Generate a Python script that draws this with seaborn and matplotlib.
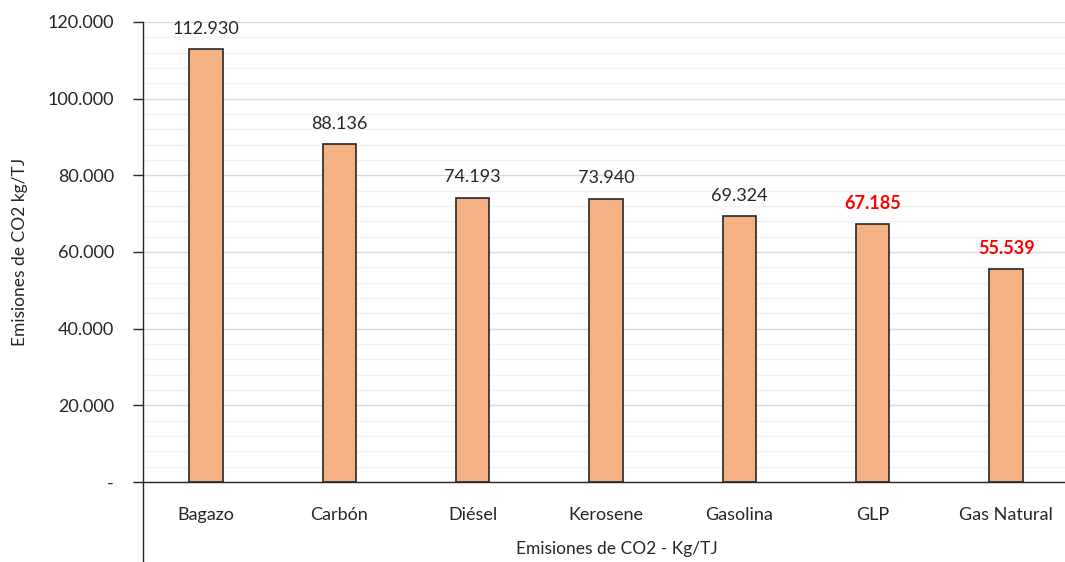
import matplotlib
matplotlib.use("Agg")
import matplotlib.pyplot as plt
import seaborn as sns
import pandas as pd
from matplotlib.ticker import MultipleLocator, FuncFormatter
from matplotlib.lines import Line2D

categories = ["Bagazo", "Carbón", "Diésel", "Kerosene", "Gasolina", "GLP", "Gas Natural"]
values = [112930, 88136, 74193, 73940, 69324, 67185, 55539]
highlight = [False, False, False, False, False, True, True]
x_title = "Emisiones de CO2 - Kg/TJ"
y_title = "Emisiones de CO2 kg/TJ"

sns.set_theme(style="white")
plt.rcParams['font.family'] = ['Lato', 'DejaVu Sans']

df = pd.DataFrame({"cat": categories, "val": values})

fig = plt.figure(figsize=(10.65, 5.62), dpi=100)
ax = fig.add_axes([143/1065, 80/562, 933/1065, 460/562])

sns.barplot(data=df, x="cat", y="val", color="#F4B183", saturation=1,
            width=0.25, edgecolor="#262626", linewidth=1.2, ax=ax, zorder=3)

ax.set_xlim(-0.4725, 6.525)
ax.set_ylim(0, 120000)
ax.yaxis.set_major_locator(MultipleLocator(20000))
ax.yaxis.set_minor_locator(MultipleLocator(4000))

def fmt(v, pos):
    if v == 0:
        return "-"
    return f"{int(v):,}".replace(",", ".")
ax.yaxis.set_major_formatter(FuncFormatter(fmt))

ax.grid(which="major", axis="y", color="#D9D9D9", linewidth=1.0, zorder=0)
ax.grid(which="minor", axis="y", color="#F2F2F2", linewidth=1.0, zorder=0)
ax.set_axisbelow(True)

for s in ["top", "right"]:
    ax.spines[s].set_visible(False)
ax.spines["left"].set_color("#262626")
ax.spines["bottom"].set_color("#262626")
ax.spines["left"].set_linewidth(1.0)
ax.spines["bottom"].set_linewidth(1.0)

ax.tick_params(axis="y", which="major", left=True, length=7, width=1.0,
               color="#262626", labelsize=13, labelcolor="#262626", pad=14)
ax.tick_params(axis="y", which="minor", left=False)
ax.tick_params(axis="x", bottom=False, labelsize=13, labelcolor="#262626", pad=12)

ax.set_xlabel("")
ax.set_ylabel(y_title, fontsize=12.5, color="#262626", labelpad=14)
fig.text(617/1065, 1 - 549/562, x_title, ha="center", va="center",
         fontsize=12.5, color="#262626")

for i, (v, h) in enumerate(zip(values, highlight)):
    lbl = f"{v:,}".replace(",", ".")
    ax.annotate(lbl, (i, v), xytext=(0, 9), textcoords="offset points",
                ha="center", va="bottom", fontsize=13,
                color="red" if h else "#262626",
                fontweight="bold" if h else "normal")

# extended left axis line down through the category area
fig.add_artist(Line2D([143/1065, 143/1065], [0, 80/562], transform=fig.transFigure,
                      color="#262626", linewidth=1.0))

fig.savefig("out.png", dpi=100)
